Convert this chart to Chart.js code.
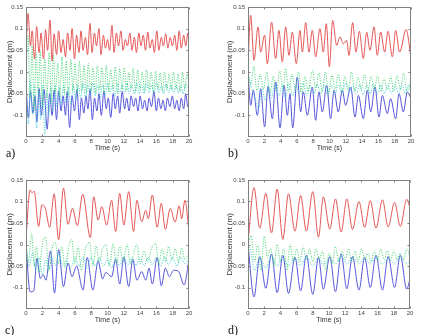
<!DOCTYPE html>
<html><head><meta charset="utf-8">
<script src="https://cdn.jsdelivr.net/npm/chart.js@4"></script>
<style>
html,body{margin:0;padding:0;background:#fff;}
body{width:430px;height:335px;position:relative;overflow:hidden;}
canvas{position:absolute;}
.lbl{position:absolute;font-family:"Liberation Serif",serif;font-size:12px;line-height:12px;color:#111;}
</style></head>
<body>
<canvas id="ca" width="215" height="153" style="left:0;top:0"></canvas>
<canvas id="cb" width="208" height="153" style="left:222px;top:0"></canvas>
<canvas id="cc" width="215" height="152" style="left:0;top:173px"></canvas>
<canvas id="cd" width="208" height="152" style="left:222px;top:173px"></canvas>
<div class="lbl" style="left:6px;top:147px">a)</div>
<div class="lbl" style="left:228px;top:147px">b)</div>
<div class="lbl" style="left:5px;top:324px">c)</div>
<div class="lbl" style="left:228px;top:324px">d)</div>
<script>
const xTicks = [0,2,4,6,8,10,12,14,16,18,20];
const yTicks = [-0.1,-0.05,0,0.05,0.1,0.15];
const xTitle = 'Time (s)';
const yTitle = 'Displacement (m)';
const panelNames = ['a)','b)','c)','d)'];

// Panel a)
const aRed = [[0,0.05],[0.25,0.135],[0.55,0.06],[0.75,0.095],[1.05,0.03],[1.3,0.105],[1.6,0.045],[1.85,0.09],[2.15,0.03],[2.4,0.098],[2.65,0.05],[2.95,0.12],[3.2,0.025],[3.45,0.088],[3.75,0.04],[4.0,0.095],[4.3,0.045],[4.55,0.075],[4.85,0.035],[5.1,0.09],[5.4,0.05],[5.65,0.1],[5.95,0.03],[6.2,0.085],[6.5,0.045],[6.75,0.095],[7.0,0.05],[7.3,0.08],[7.55,0.04],[7.85,0.112],[8.1,0.045],[8.4,0.09],[8.65,0.06],[8.95,0.1],[9.2,0.04],[9.5,0.085],[9.75,0.055],[10.0,0.075],[10.25,0.05],[10.55,0.108],[10.8,0.045],[11.1,0.09],[11.35,0.06],[11.65,0.095],[11.9,0.05],[12.2,0.075],[12.45,0.06],[12.75,0.09],[13.0,0.05],[13.3,0.08],[13.55,0.045],[13.85,0.09],[14.1,0.06],[14.4,0.085],[14.65,0.05],[14.95,0.092],[15.2,0.055],[15.5,0.075],[15.75,0.045],[16.05,0.095],[16.3,0.05],[16.6,0.08],[16.85,0.06],[17.15,0.088],[17.4,0.055],[17.7,0.08],[17.95,0.06],[18.25,0.085],[18.5,0.05],[18.8,0.095],[19.05,0.055],[19.35,0.085],[19.6,0.06],[19.85,0.09],[20,0.06]];
const aGreen = [[0,0],[0.25,0.085],[0.5,-0.06],[0.75,0.06],[1.0,-0.09],[1.25,0.045],[1.5,-0.05],[1.75,0.05],[2.0,-0.08],[2.3,0.03],[2.55,-0.06],[2.85,0.045],[3.1,-0.07],[3.35,0.04],[3.6,-0.05],[3.9,0.02],[4.15,-0.06],[4.4,0.035],[4.7,-0.05],[4.95,0.025],[5.2,-0.055],[5.5,0.03],[5.75,-0.045],[6.0,0.02],[6.3,-0.05],[6.55,0.025],[6.85,-0.045],[7.1,0.015],[7.4,-0.05],[7.65,0.02],[7.95,-0.045],[8.2,0.012],[8.5,-0.05],[8.75,0.015],[9.05,-0.04],[9.3,0.01],[9.6,-0.05],[9.85,0.015],[10.15,-0.045],[10.4,0.005],[10.7,-0.04],[10.95,0.012],[11.25,-0.05],[11.5,0.008],[11.8,-0.04],[12.05,0.01],[12.35,-0.045],[12.6,0.0],[12.9,-0.04],[13.15,0.008],[13.45,-0.045],[13.7,0.005],[14.0,-0.04],[14.25,0.0],[14.55,-0.045],[14.8,0.005],[15.1,-0.04],[15.35,0.0],[15.65,-0.045],[15.9,0.002],[16.2,-0.04],[16.45,-0.002],[16.75,-0.045],[17.0,0.0],[17.3,-0.04],[17.55,-0.005],[17.85,-0.042],[18.1,0.0],[18.4,-0.04],[18.65,-0.005],[18.95,-0.045],[19.2,0.0],[19.5,-0.04],[19.75,-0.005],[20,-0.03]];
const aCyan = [[0,0],[0.3,-0.12],[0.55,-0.02],[0.8,-0.1],[1.05,-0.03],[1.3,-0.13],[1.55,-0.04],[1.8,-0.11],[2.05,-0.03],[2.3,-0.145],[2.55,-0.05],[2.8,-0.1],[3.05,-0.035],[3.3,-0.09],[3.55,-0.03],[3.8,-0.08],[4.05,-0.035],[4.3,-0.075],[4.6,-0.03],[4.9,-0.07],[5.2,-0.035],[5.5,-0.075],[5.8,-0.03],[6.1,-0.065],[6.4,-0.03],[6.7,-0.06],[7.0,-0.025],[7.3,-0.06],[7.6,-0.03],[7.9,-0.055],[8.2,-0.025],[8.5,-0.055],[8.8,-0.03],[9.1,-0.06],[9.4,-0.03],[9.7,-0.055],[10.0,-0.025],[10.3,-0.05],[10.6,-0.03],[10.9,-0.055],[11.2,-0.025],[11.5,-0.05],[11.8,-0.03],[12.1,-0.05],[12.4,-0.025],[12.7,-0.05],[13.0,-0.03],[13.3,-0.05],[13.6,-0.025],[13.9,-0.05],[14.2,-0.03],[14.5,-0.05],[14.8,-0.025],[15.1,-0.048],[15.4,-0.03],[15.7,-0.05],[16.0,-0.025],[16.3,-0.048],[16.6,-0.03],[16.9,-0.05],[17.2,-0.028],[17.5,-0.048],[17.8,-0.03],[18.1,-0.05],[18.4,-0.028],[18.7,-0.048],[19.0,-0.03],[19.3,-0.05],[19.6,-0.028],[20,-0.04]];
const aBlue = [[0,-0.03],[0.3,-0.105],[0.55,-0.045],[0.85,-0.095],[1.1,-0.055],[1.35,-0.115],[1.6,-0.038],[1.9,-0.1],[2.2,-0.04],[2.6,-0.132],[2.9,-0.05],[3.2,-0.1],[3.45,-0.042],[3.75,-0.11],[4.0,-0.045],[4.3,-0.09],[4.55,-0.055],[4.85,-0.1],[5.05,-0.045],[5.35,-0.128],[5.65,-0.055],[5.95,-0.09],[6.25,-0.04],[6.55,-0.11],[6.8,-0.06],[7.1,-0.095],[7.35,-0.055],[7.6,-0.085],[7.85,-0.04],[8.15,-0.11],[8.4,-0.06],[8.7,-0.09],[8.95,-0.05],[9.25,-0.1],[9.55,-0.045],[9.85,-0.085],[10.1,-0.06],[10.4,-0.105],[10.7,-0.05],[10.95,-0.085],[11.25,-0.055],[11.5,-0.095],[11.8,-0.045],[12.1,-0.085],[12.35,-0.06],[12.65,-0.09],[12.9,-0.055],[13.2,-0.08],[13.45,-0.06],[13.75,-0.09],[14.0,-0.055],[14.3,-0.085],[14.55,-0.065],[14.85,-0.09],[15.1,-0.06],[15.4,-0.08],[15.7,-0.045],[16.0,-0.09],[16.25,-0.06],[16.55,-0.085],[16.8,-0.065],[17.1,-0.09],[17.35,-0.06],[17.65,-0.08],[17.95,-0.055],[18.25,-0.085],[18.5,-0.065],[18.8,-0.09],[19.05,-0.06],[19.35,-0.085],[19.6,-0.05],[19.85,-0.08],[20,-0.07]];

// Panel b)
const bRed = [[0,0.023],[0.33,0.131],[0.74,0.027],[1.23,0.104],[1.55,0.046],[2.04,0.085],[2.37,0.019],[2.9,0.115],[3.39,0.031],[3.8,0.096],[4.21,0.023],[4.62,0.104],[5.03,0.0385],[5.44,0.092],[5.93,0.019],[6.38,0.096],[6.67,0.046],[7.08,0.114],[7.48,0.046],[7.89,0.096],[8.3,0.035],[8.83,0.1],[9.24,0.046],[9.61,0.1115],[9.98,0.012],[10.39,0.119],[10.88,0.0615],[11.29,0.081],[11.7,0.065],[12.1,0.073],[12.39,0.0385],[12.84,0.114],[13.25,0.046],[13.66,0.094],[14.15,0.031],[14.56,0.092],[14.97,0.05],[15.46,0.104],[15.87,0.0385],[16.28,0.092],[16.77,0.046],[17.18,0.094],[17.71,0.035],[18.12,0.096],[18.6,0.046],[19.4,0.098],[20,0.033]];
const bGreen = [[0,0],[0.35,-0.03],[0.7,0.013],[1.1,-0.045],[1.5,-0.005],[1.9,-0.04],[2.3,0.0],[2.7,-0.05],[3.1,-0.01],[3.5,-0.045],[3.9,0.002],[4.3,-0.04],[4.6,0.008],[5.0,-0.045],[5.4,-0.005],[5.8,-0.04],[6.2,0.0],[6.6,-0.05],[7.0,-0.01],[7.4,-0.045],[7.9,0.004],[8.3,-0.04],[8.7,-0.002],[9.1,-0.045],[9.5,0.0],[9.9,-0.05],[10.3,-0.008],[10.7,-0.04],[11.1,-0.005],[11.5,-0.045],[11.9,-0.01],[12.3,-0.04],[12.7,0.0],[13.1,-0.045],[13.5,-0.012],[13.9,-0.04],[14.3,-0.005],[14.7,-0.045],[15.1,-0.01],[15.5,-0.04],[15.9,-0.008],[16.3,-0.045],[16.7,-0.015],[17.1,-0.04],[17.5,-0.01],[17.9,-0.045],[18.3,-0.008],[18.7,-0.04],[19.1,-0.002],[19.5,-0.045],[20,-0.02]];
const bCyan = [[0,0],[0.4,-0.035],[0.85,-0.06],[1.3,-0.085],[1.7,-0.035],[2.1,-0.065],[2.5,-0.03],[2.9,-0.06],[3.3,-0.025],[3.8,-0.055],[4.2,-0.03],[4.6,-0.06],[5.0,-0.025],[5.5,-0.055],[5.9,-0.03],[6.3,-0.05],[6.8,-0.025],[7.2,-0.055],[7.6,-0.03],[8.1,-0.05],[8.5,-0.028],[8.9,-0.05],[9.4,-0.03],[9.8,-0.055],[10.2,-0.03],[10.7,-0.05],[11.1,-0.03],[11.5,-0.05],[12.0,-0.025],[12.4,-0.05],[12.8,-0.03],[13.3,-0.05],[13.7,-0.03],[14.1,-0.052],[14.6,-0.03],[15.0,-0.05],[15.4,-0.028],[15.9,-0.05],[16.3,-0.03],[16.7,-0.05],[17.2,-0.03],[17.6,-0.05],[18.0,-0.028],[18.5,-0.05],[18.9,-0.03],[19.3,-0.05],[19.7,-0.03],[20,-0.045]];
const bBlue = [[0,0],[0.33,-0.077],[0.65,-0.042],[1.15,-0.1],[1.55,-0.0385],[2.04,-0.127],[2.45,-0.0346],[2.99,-0.108],[3.39,-0.023],[3.93,-0.129],[4.42,-0.031],[4.83,-0.1],[5.15,-0.05],[5.48,-0.129],[6.05,-0.0115],[6.46,-0.092],[6.79,-0.046],[7.28,-0.1],[7.89,-0.0346],[8.3,-0.1115],[8.71,-0.046],[9.12,-0.092],[9.65,-0.031],[10.14,-0.108],[10.55,-0.042],[11.08,-0.092],[11.57,-0.042],[11.98,-0.077],[12.6,-0.0346],[13.13,-0.104],[13.54,-0.054],[14.15,-0.108],[14.64,-0.042],[15.05,-0.092],[15.58,-0.0346],[16.07,-0.104],[16.48,-0.054],[17.1,-0.096],[17.5,-0.0615],[18.12,-0.108],[18.53,-0.05],[19.06,-0.092],[19.55,-0.046],[20,-0.0615]];

// Panel c)
const cRed = [[0,0.014],[0.5,0.127],[0.75,0.12],[1.0,0.124],[1.55,0.042],[1.95,0.092],[2.35,0.086],[2.9,0.04],[3.45,0.118],[4.0,0.011],[4.6,0.131],[5.15,0.047],[5.7,0.084],[6.3,0.044],[6.95,0.117],[7.9,0.016],[8.3,0.111],[8.85,0.057],[9.3,0.088],[9.9,0.045],[10.5,0.103],[11.0,0.03],[11.5,0.119],[12.0,0.045],[12.6,0.123],[13.2,0.03],[13.6,0.103],[14.2,0.053],[14.7,0.08],[15.0,0.06],[15.5,0.115],[16.1,0.04],[16.6,0.096],[17.1,0.035],[17.7,0.084],[18.3,0.052],[18.8,0.09],[19.1,0.06],[19.5,0.103],[20,0.03]];
const cGreen = [[0,0],[0.3,-0.04],[0.7,0.026],[1.0,-0.05],[1.3,-0.005],[1.6,-0.065],[2.0,0.0],[2.4,0.018],[2.8,-0.06],[3.2,-0.01],[3.6,0.005],[4.0,-0.045],[4.4,-0.005],[4.8,-0.055],[5.2,-0.01],[5.6,0.012],[6.0,-0.045],[6.4,-0.005],[6.8,-0.06],[7.3,-0.01],[7.8,0.005],[8.2,-0.05],[8.6,-0.003],[9.0,-0.04],[9.4,-0.01],[9.8,0.0],[10.2,-0.05],[10.7,0.002],[11.1,-0.045],[11.5,-0.005],[11.9,-0.04],[12.4,0.0],[12.8,-0.045],[13.2,-0.02],[13.6,0.0],[14.0,-0.045],[14.5,-0.015],[14.9,-0.04],[15.4,-0.01],[15.9,0.003],[16.3,-0.045],[16.7,-0.01],[17.1,-0.04],[17.5,-0.005],[17.9,-0.035],[18.3,-0.01],[18.7,-0.04],[19.1,-0.008],[19.5,-0.035],[20,-0.02]];
const cCyan = [[0,0],[0.4,-0.05],[0.8,-0.02],[1.2,-0.06],[1.6,-0.03],[2.0,-0.07],[2.4,-0.035],[2.8,-0.06],[3.2,-0.03],[3.6,-0.05],[4.0,-0.02],[4.5,-0.05],[5.0,-0.035],[5.5,-0.055],[6.0,-0.03],[6.5,-0.05],[7.0,-0.03],[7.5,-0.055],[8.0,-0.03],[8.5,-0.05],[9.0,-0.03],[9.5,-0.05],[10.0,-0.035],[10.5,-0.055],[11.0,-0.03],[11.5,-0.05],[12.0,-0.028],[12.5,-0.05],[13.0,-0.03],[13.5,-0.048],[14.0,-0.03],[14.5,-0.05],[15.0,-0.03],[15.5,-0.048],[16.0,-0.03],[16.5,-0.05],[17.0,-0.03],[17.5,-0.048],[18.0,-0.03],[18.5,-0.05],[19.0,-0.03],[19.5,-0.045],[20,-0.035]];
const cBlue = [[0,0],[0.5,-0.11],[0.95,-0.108],[1.35,-0.032],[1.75,-0.079],[2.1,-0.07],[2.45,-0.083],[3.0,-0.015],[3.5,-0.113],[4.0,-0.012],[4.6,-0.098],[5.15,-0.043],[5.65,-0.075],[6.2,-0.05],[7.0,-0.106],[7.5,-0.03],[8.2,-0.106],[8.85,-0.039],[9.4,-0.08],[9.8,-0.065],[10.5,-0.075],[11.0,-0.035],[11.5,-0.092],[12.0,-0.03],[12.6,-0.098],[13.1,-0.035],[13.6,-0.083],[14.2,-0.063],[14.7,-0.083],[15.1,-0.055],[15.5,-0.092],[16.1,-0.03],[16.6,-0.096],[17.1,-0.055],[17.6,-0.075],[18.1,-0.06],[18.7,-0.062],[19.4,-0.094],[20,-0.036]];

// Panel d)
const dRed = [[0,0.005],[0.74,0.132],[1.45,0.038],[2.2,0.119],[2.9,0.027],[3.6,0.129],[4.3,0.012],[5.0,0.118],[5.8,0.031],[6.5,0.114],[7.2,0.031],[8.0,0.123],[8.7,0.017],[9.3,0.111],[10.1,0.036],[10.8,0.106],[11.5,0.029],[12.2,0.106],[12.9,0.035],[13.7,0.1],[14.4,0.04],[15.1,0.102],[15.8,0.038],[16.6,0.104],[17.3,0.041],[18.1,0.098],[18.8,0.042],[19.6,0.105],[20,0.085]];
const dGreen = [[0,0],[0.4,0.02],[0.8,-0.04],[1.2,0.0],[1.6,-0.06],[2.0,0.02],[2.4,-0.03],[2.8,-0.01],[3.2,-0.05],[3.6,0.0],[4.0,-0.04],[4.4,-0.01],[4.8,-0.06],[5.2,0.0],[5.6,-0.04],[6.0,-0.01],[6.4,-0.04],[6.8,-0.005],[7.2,-0.035],[7.6,-0.01],[8.0,-0.04],[8.4,-0.01],[8.8,-0.035],[9.2,-0.015],[9.6,-0.06],[10.0,-0.02],[10.4,-0.045],[10.8,-0.005],[11.2,-0.04],[11.6,-0.015],[12.0,-0.035],[12.4,-0.01],[12.8,-0.04],[13.2,-0.015],[13.6,-0.04],[14.0,-0.01],[14.4,-0.035],[14.8,-0.02],[15.2,-0.04],[15.6,-0.015],[16.0,-0.035],[16.4,-0.01],[16.8,-0.035],[17.2,-0.015],[17.6,-0.035],[18.0,-0.015],[18.4,-0.035],[18.8,-0.02],[19.2,-0.035],[19.6,-0.01],[20,-0.03]];
const dCyan = [[0,0],[0.4,-0.02],[0.8,-0.06],[1.45,-0.03],[2.2,-0.055],[2.9,-0.025],[3.6,-0.05],[4.3,-0.03],[5.0,-0.05],[5.8,-0.03],[6.5,-0.05],[7.2,-0.028],[8.0,-0.05],[8.7,-0.03],[9.3,-0.048],[10.1,-0.03],[10.8,-0.045],[11.5,-0.027],[12.2,-0.045],[12.9,-0.03],[13.7,-0.045],[14.4,-0.032],[15.1,-0.045],[15.8,-0.03],[16.6,-0.045],[17.3,-0.032],[18.1,-0.045],[18.8,-0.03],[19.6,-0.045],[20,-0.035]];
const dBlue = [[0,0],[0.74,-0.122],[1.45,-0.028],[2.2,-0.102],[2.9,-0.022],[3.6,-0.112],[4.3,-0.025],[5.0,-0.114],[5.8,-0.03],[6.5,-0.108],[7.2,-0.025],[8.0,-0.116],[8.7,-0.03],[9.3,-0.104],[10.1,-0.028],[10.8,-0.11],[11.5,-0.022],[12.2,-0.103],[12.9,-0.028],[13.7,-0.106],[14.4,-0.03],[15.1,-0.1],[15.8,-0.025],[16.6,-0.106],[17.3,-0.028],[18.1,-0.1],[18.8,-0.025],[19.6,-0.104],[20,-0.08]];

const RED = 'rgb(228,85,85)', GREEN = 'rgb(60,210,110)', CYAN = 'rgb(60,200,210)', BLUE = 'rgb(85,85,220)';

const framePlugin = {
  id: 'frame',
  afterDraw(chart) {
    const {ctx, chartArea: a, scales: {x, y}} = chart;
    ctx.save();
    ctx.strokeStyle = '#808080';
    ctx.lineWidth = 1;
    const L = Math.round(a.left) + 0.5, R = Math.round(a.right) - 0.5;
    const T = Math.round(a.top) + 0.5, B = Math.round(a.bottom) - 0.5;
    ctx.strokeRect(L, T, R - L, B - T);
    ctx.beginPath();
    x.ticks.forEach(t => {
      const px = Math.round(x.getPixelForValue(t.value)) + 0.5;
      ctx.moveTo(px, B); ctx.lineTo(px, B - 2);
      ctx.moveTo(px, T); ctx.lineTo(px, T + 2);
    });
    y.ticks.forEach(t => {
      const py = Math.round(y.getPixelForValue(t.value)) + 0.5;
      ctx.moveTo(L, py); ctx.lineTo(L + 2, py);
      ctx.moveTo(R, py); ctx.lineTo(R - 2, py);
    });
    ctx.stroke();
    ctx.restore();
  }
};

function ds(points, color, dotted) {
  return {
    data: points.map(p => ({x: p[0], y: p[1]})),
    borderColor: color,
    borderWidth: 1,
    borderDash: dotted ? [1, 1.5] : [],
    pointRadius: 0,
    fill: false,
    cubicInterpolationMode: 'monotone'
  };
}

function makeChart(id, series, padRight, titlePad) {
  new Chart(document.getElementById(id), {
    type: 'line',
    data: { datasets: [
      ds(series[0], RED, false),
      ds(series[1], GREEN, true),
      ds(series[2], CYAN, true),
      ds(series[3], BLUE, false)
    ]},
    options: {
      responsive: false,
      animation: false,
      events: [],
      layout: { padding: { top: 7, right: padRight, bottom: 0, left: 0 } },
      plugins: { legend: { display: false }, tooltip: { enabled: false } },
      scales: {
        x: {
          type: 'linear', min: 0, max: 20,
          afterBuildTicks: s => { s.ticks = xTicks.map(v => ({value: v})); },
          afterFit: s => { s.height = 16; },
          grid: { display: false, drawTicks: false },
          border: { display: false },
          ticks: { padding: 1, color: '#444', font: { family: 'Liberation Sans', size: 6 }, maxRotation: 0, autoSkip: false,
                   callback: v => String(v) },
          title: { display: true, text: xTitle, color: '#333', font: { family: 'Liberation Sans', size: 7 }, padding: { top: 0, bottom: 1 } }
        },
        y: {
          type: 'linear', min: -0.15, max: 0.15,
          afterBuildTicks: s => { s.ticks = yTicks.map(v => ({value: v})); },
          afterFit: s => { s.width = 26; },
          grid: { display: false, drawTicks: false },
          border: { display: false },
          ticks: { padding: 3, color: '#444', font: { family: 'Liberation Sans', size: 6 }, autoSkip: false,
                   callback: v => String(+(+v).toFixed(2)) },
          title: { display: true, text: yTitle, color: '#333', font: { family: 'Liberation Sans', size: 8 }, padding: { top: titlePad, bottom: 0 } }
        }
      }
    },
    plugins: [framePlugin]
  });
}

makeChart('ca', [aRed, aGreen, aCyan, aBlue], 26, 5);
makeChart('cb', [bRed, bGreen, bCyan, bBlue], 19, 3);
makeChart('cc', [cRed, cGreen, cCyan, cBlue], 26, 5);
makeChart('cd', [dRed, dGreen, dCyan, dBlue], 20, 3);
</script>
</body></html>
